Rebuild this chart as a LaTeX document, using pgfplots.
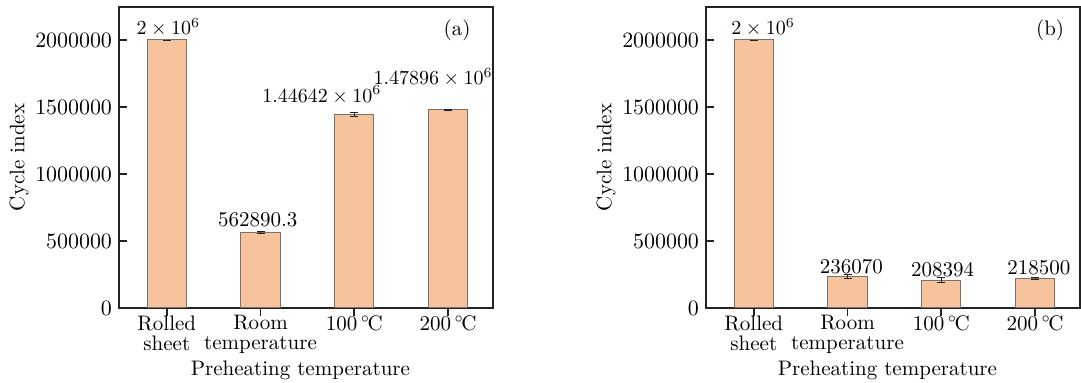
\documentclass[border=0pt]{standalone}
\usepackage{pgfplots}
\pgfplotsset{compat=1.18}
\definecolor{barfill}{RGB}{247,195,157}
\definecolor{baredge}{RGB}{125,112,104}
\definecolor{axcol}{RGB}{35,35,35}
\newcommand{\dC}{\,$^{\circ}$\kern-0.12em C}
\newcommand{\fs}{\fontsize{10.5}{10}\selectfont}
\newcommand{\fm}{\fontsize{10}{10}\selectfont}
\begin{document}
\begin{tikzpicture}
\pgfplotsset{
 myax/.style={
  scale only axis, width=187pt, height=150.5pt,
  xmin=-0.51, xmax=3.48, ymin=0, ymax=2246000,
  xtick={0,1,2,3},
  xticklabels={{Rolled\\sheet},{Room\\temperature},{100\dC},{200\dC}},
  ytick={0,500000,1000000,1500000,2000000},
  scaled y ticks=false,
  yticklabel style={/pgf/number format/.cd, fixed, 1000 sep={}},
  tick pos=left, tick align=inside, major tick length=4pt,
  axis line style={axcol, line width=0.8pt},
  tick style={axcol, line width=0.8pt},
  font=\fs,
  xticklabel style={align=center, font=\fs, yshift=3.8pt},
  ylabel={Cycle index}, xlabel={Preheating temperature},
  every axis y label/.style={at={(axis description cs:-0.267,0.5)}, rotate=90, anchor=center},
  every axis x label/.style={at={(axis description cs:0.485,-0.206)}, anchor=center},
  ybar, bar width=0.42,
 },
 barsty/.style={fill=barfill, draw=baredge, line width=0.5pt,
  error bars/.cd, y dir=both, y explicit,
  error bar style={axcol, line width=0.4pt},
  error mark options={rotate=90, mark size=2pt, axcol, line width=0.4pt}},
}
\begin{axis}[myax, at={(59.5pt,37.5pt)}, anchor=south west]
\addplot[barsty] table[x=x, y=y, y error=e] {
x y e
0 2000000 0
1 562890.3 9000
2 1446420 14000
3 1478960 3000
};
\node[font=\fm] at (axis cs:0.016,2097000) {$2\times10^{6}$};
\node[font=\fs] at (axis cs:0.97,657000) {562890.3};
\node[font=\fm] at (axis cs:1.654,1590000) {$1.44642\times10^{6}$};
\node[font=\fm] at (axis cs:2.84,1720000) {$1.47896\times10^{6}$};
\node[font=\fs] at (axis description cs:0.904,0.924) {(a)};
\end{axis}
\begin{axis}[myax, at={(353pt,37.5pt)}, anchor=south west]
\addplot[barsty] table[x=x, y=y, y error=e] {
x y e
0 2000000 0
1 236070 18000
2 208394 17000
3 218500 7000
};
\node[font=\fm] at (axis cs:0.1,2097000) {$2\times10^{6}$};
\node[font=\fs] at (axis cs:1.04,306000) {236070};
\node[font=\fs] at (axis cs:2.015,283600) {208394};
\node[font=\fs] at (axis cs:3.04,298500) {218500};
\node[font=\fs] at (axis description cs:0.92,0.924) {(b)};
\end{axis}
\pgfresetboundingbox
\path (0pt,0pt) rectangle (540.5pt,191.5pt);
\end{tikzpicture}
\end{document}
